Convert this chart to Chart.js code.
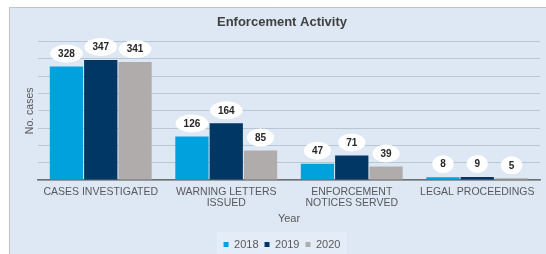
<!DOCTYPE html>
<html>
<head>
<meta charset="utf-8">
<style>
  html, body { margin: 0; padding: 0; background: #ffffff; }
  #wrap { width: 546px; height: 254px; }
</style>
<script src="https://cdn.jsdelivr.net/npm/chart.js"></script>
</head>
<body>
<div id="wrap"><canvas id="enforcementChart" width="546" height="254"></canvas></div>
<script>
    // Chart data
    const categories = ['CASES INVESTIGATED', ['WARNING LETTERS', 'ISSUED'], ['ENFORCEMENT', 'NOTICES SERVED'], 'LEGAL PROCEEDINGS'];
    const years = ['2018', '2019', '2020'];
    const cases2018 = [328, 126, 47, 8];
    const cases2019 = [347, 164, 71, 9];
    const cases2020 = [341, 85, 39, 5];
    const yTicks = [0, 50, 100, 150, 200, 250, 300, 350, 400];

    const colors = ['#00a1dc', '#003764', '#b1acac'];
    const fontFamily = '"Liberation Sans", Arial, sans-serif';

    // Light blue panel behind the chart, with a thin frame
    const panelBackground = {
        id: 'panelBackground',
        beforeDraw(chart) {
            const ctx = chart.ctx;
            ctx.save();
            ctx.fillStyle = '#ffffff';
            ctx.fillRect(0, 0, chart.width, chart.height);
            ctx.fillStyle = '#dde8f4';
            ctx.fillRect(9, 7, chart.width - 9, chart.height - 7);
            ctx.strokeStyle = '#bfc3c8';
            ctx.lineWidth = 1;
            ctx.beginPath();
            ctx.moveTo(9.5, chart.height);
            ctx.lineTo(9.5, 7.5);
            ctx.lineTo(chart.width, 7.5);
            ctx.stroke();
            // lighter box behind the legend
            ctx.fillStyle = '#e4edf7';
            ctx.fillRect(217, 232, 130, 22);
            ctx.restore();
        }
    };

    // White oval value labels above each bar
    const ovalLabels = {
        id: 'ovalLabels',
        afterDatasetsDraw(chart) {
            const ctx = chart.ctx;
            ctx.save();
            ctx.font = 'bold 10px ' + fontFamily;
            ctx.textAlign = 'center';
            ctx.textBaseline = 'middle';
            chart.data.datasets.forEach((ds, i) => {
                chart.getDatasetMeta(i).data.forEach((bar, j) => {
                    const txt = String(ds.data[j]);
                    const w = ctx.measureText(txt).width;
                    const rx = Math.max(9, (w + 16) / 2);
                    const cx = bar.x;
                    const cy = bar.y - 13;
                    ctx.fillStyle = '#ffffff';
                    ctx.beginPath();
                    ctx.ellipse(cx, cy, rx, 9, 0, 0, Math.PI * 2);
                    ctx.fill();
                    ctx.fillStyle = '#262626';
                    ctx.fillText(txt, cx, cy + 0.5);
                });
            });
            ctx.restore();
        }
    };

    const ctx = document.getElementById('enforcementChart').getContext('2d');
    new Chart(ctx, {
        type: 'bar',
        data: {
            labels: categories,
            datasets: [
                { label: years[0], data: cases2018, backgroundColor: colors[0] },
                { label: years[1], data: cases2019, backgroundColor: colors[1] },
                { label: years[2], data: cases2020, backgroundColor: colors[2] }
            ]
        },
        options: {
            responsive: false,
            animation: false,
            devicePixelRatio: 1,
            categoryPercentage: 0.82,
            barPercentage: 0.97,
            layout: { padding: { left: 24, right: 6, top: 0, bottom: -6 } },
            scales: {
                y: {
                    min: 0,
                    max: 400,
                    afterBuildTicks: (scale) => { scale.ticks = yTicks.map(v => ({ value: v })); },
                    ticks: { display: false },
                    grid: { color: '#b9c6d3', drawTicks: false },
                    border: { display: false },
                    title: {
                        display: true,
                        text: 'No. cases',
                        color: '#595959',
                        font: { family: fontFamily, size: 10.5 },
                        padding: { top: 0, bottom: 2 }
                    },
                    afterFit: (scale) => { scale.width = 14; }
                },
                x: {
                    grid: { display: false, drawTicks: false },
                    border: { color: '#6f6f6f', width: 1.5 },
                    ticks: {
                        color: '#595959',
                        font: { family: fontFamily, size: 10.5, lineHeight: 1.05 },
                        padding: 7,
                        maxRotation: 0,
                        autoSkip: false
                    },
                    title: {
                        display: true,
                        text: 'Year',
                        color: '#595959',
                        font: { family: fontFamily, size: 11 },
                        padding: { top: 0, bottom: 7 }
                    },
                    afterFit: (scale) => { scale.height = 53; }
                }
            },
            plugins: {
                title: {
                    display: true,
                    text: 'Enforcement Activity',
                    color: '#404040',
                    font: { family: fontFamily, size: 13, weight: 'bold' },
                    padding: { top: 15, bottom: 11 }
                },
                legend: {
                    display: true,
                    position: 'bottom',
                    labels: {
                        color: '#595959',
                        font: { family: fontFamily, size: 11 },
                        boxWidth: 5,
                        boxHeight: 5,
                        padding: 6
                    }
                },
                tooltip: { enabled: false }
            }
        },
        plugins: [panelBackground, ovalLabels]
    });
</script>
</body>
</html>
